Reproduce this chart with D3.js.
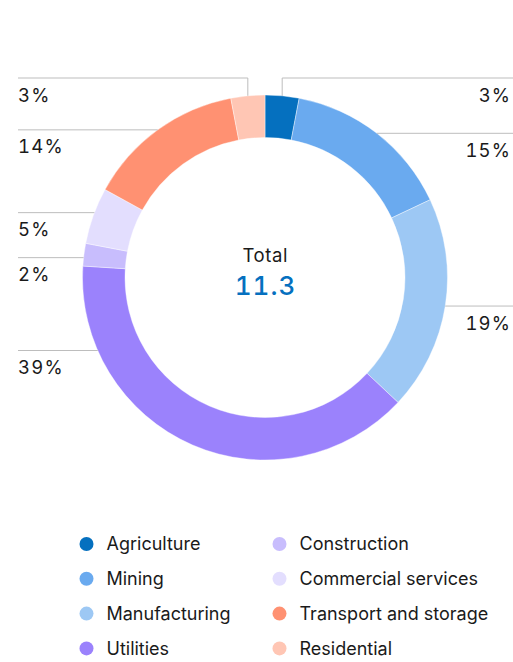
<!DOCTYPE html>
<html>
<head>
<meta charset="utf-8">
<script src="https://cdn.jsdelivr.net/npm/d3@7"></script>
<style>
  html, body { margin: 0; padding: 0; background: #fff; }
  svg { display: block; font-family: Inter, "Noto Sans", sans-serif; }
  .num { font-variant-numeric: tabular-nums; }
</style>
</head>
<body>
<svg id="chart" width="513" height="662"></svg>
<script>
// Emission shares by sector (percent of total)
const sectors = ["Agriculture", "Mining", "Manufacturing", "Utilities",
                 "Construction", "Commercial services", "Transport and storage", "Residential"];
const shares = [3, 15, 19, 39, 2, 5, 14, 3];
const colors = ["#0570bf", "#6aaaef", "#9dc8f4", "#9b82fc",
                "#c8bdfd", "#e3defe", "#ff9172", "#ffc6b4"];
const totalLabel = "Total";
const totalValue = "11.3";

const W = 513, H = 662;
const cx = 265, cy = 277.5;
const rOuter = 182.5, rInner = 140;
const svg = d3.select("#chart");

const data = sectors.map((name, i) => ({ name, value: shares[i], color: colors[i] }));
const pie = d3.pie().value(d => d.value).sort(null);
const arcs = pie(data);
const arc = d3.arc().innerRadius(rInner).outerRadius(rOuter);

const g = svg.append("g").attr("transform", `translate(${cx},${cy})`);
g.selectAll("path.slice")
  .data(arcs)
  .join("path")
  .attr("class", "slice")
  .attr("d", arc)
  .attr("fill", d => d.data.color)
  .attr("stroke", "#fff")
  .attr("stroke-width", 0.4);

// Centre text
g.append("text")
  .attr("text-anchor", "middle")
  .attr("x", 0.3)
  .attr("y", -15.5)
  .attr("font-size", 18.5)
  .attr("letter-spacing", 0.6)
  .attr("fill", "#1a1a1a")
  .text(totalLabel);
g.append("text")
  .attr("class", "num")
  .attr("text-anchor", "middle")
  .attr("x", 0.5)
  .attr("y", 17.5)
  .attr("font-size", 26)
  .attr("font-weight", 500)
  .attr("letter-spacing", 1)
  .attr("fill", "#0570bf")
  .text(totalValue);

// Leader-line label layout
const leftX = 18, rightX = 510;
const topLineY = cy - rOuter - 17;
const maxDrop = 0.4 * rOuter;
const minGap = 45;
const labelSpacing = 1.2;

const labels = arcs.map(a => {
  const mid = (a.startAngle + a.endAngle) / 2;
  const px = Math.sin(mid) * rOuter;
  const py = -Math.cos(mid) * rOuter;
  const side = mid < Math.PI ? "right" : "left";
  const nearTop = Math.abs(Math.sin(mid)) < 0.2 && py < 0;
  return { a, mid, px, py, side, nearTop, y: Math.min(py, maxDrop) };
});

// Spread labels on each side so they keep a minimum vertical gap
["left", "right"].forEach(side => {
  const list = labels.filter(l => l.side === side && !l.nearTop).sort((p, q) => p.y - q.y);
  for (let iter = 0; iter < 20; iter++) {
    let moved = false;
    for (let i = 1; i < list.length; i++) {
      const d = list[i].y - list[i - 1].y;
      if (d < minGap) {
        const shift = (minGap - d) / 2;
        list[i - 1].y -= shift;
        list[i].y += shift;
        moved = true;
      }
    }
    if (!moved) break;
  }
});

const lineColor = "#bdbdbd";
const lg = svg.append("g");
labels.forEach(l => {
  let pts, ly;
  if (l.nearTop) {
    ly = topLineY;
    const x0 = cx + l.px;
    pts = [[x0, cy + l.py], [x0, ly], [l.side === "right" ? W : leftX, ly]];
  } else {
    ly = cy + l.y;
    const dy = l.y;
    const dx = Math.sqrt(Math.max(0, rOuter * rOuter - dy * dy));
    const x0 = l.side === "right" ? cx + dx : cx - dx;
    pts = [[x0, ly], [l.side === "right" ? W : leftX, ly]];
  }
  lg.append("path")
    .attr("d", d3.line()(pts))
    .attr("fill", "none")
    .attr("stroke", lineColor)
    .attr("stroke-width", 1);
  lg.append("text")
    .attr("class", "num")
    .attr("x", l.side === "right" ? rightX + labelSpacing : leftX)
    .attr("y", ly + 23.5)
    .attr("text-anchor", l.side === "right" ? "end" : "start")
    .attr("font-size", 18.5)
    .attr("letter-spacing", labelSpacing)
    .attr("fill", "#1a1a1a")
    .text(l.a.data.value + "%");
});

// Legend: two columns of four
const legX = [86.5, 279.5], legY0 = 544, legStep = 34.8;
const leg = svg.append("g").selectAll("g")
  .data(data)
  .join("g")
  .attr("transform", (d, i) => `translate(${legX[Math.floor(i / 4)]},${legY0 + (i % 4) * legStep})`);
leg.append("circle").attr("r", 7).attr("fill", d => d.color);
leg.append("text")
  .attr("x", 20)
  .attr("dy", "0.35em")
  .attr("font-size", 18)
  .attr("fill", "#1a1a1a")
  .text(d => d.name);
</script>
</body>
</html>
